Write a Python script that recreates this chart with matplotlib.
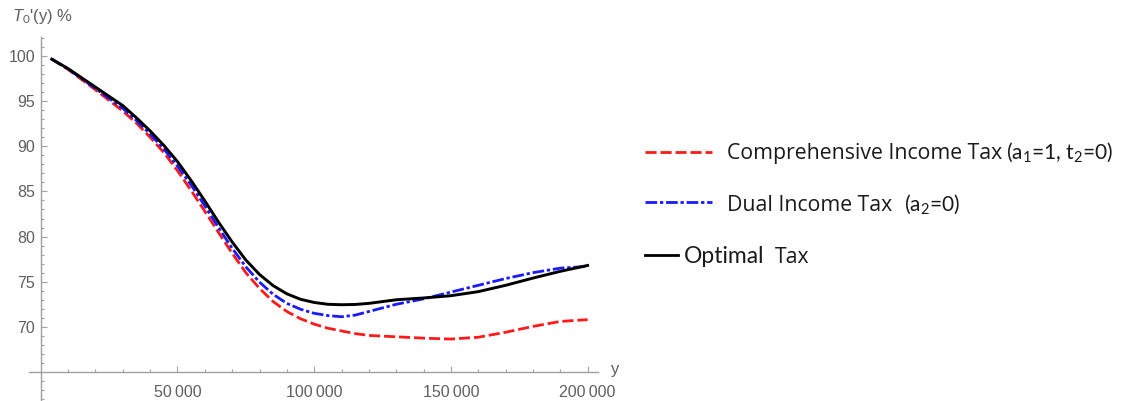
import matplotlib
matplotlib.use('Agg')
from matplotlib import pyplot as plt
from matplotlib.lines import Line2D

plt.rcParams['mathtext.fontset'] = 'custom'
plt.rcParams['mathtext.rm'] = 'Lato'
plt.rcParams['mathtext.it'] = 'Liberation Sans:italic'

# income levels y and marginal tax rates T0'(y) in %
income = [4000, 10000, 20000, 30000, 35000, 40000, 45000, 50000, 55000, 60000, 65000,
          70000, 75000, 80000, 85000, 90000, 95000, 100000, 105000, 110000, 115000,
          120000, 130000, 140000, 150000, 160000, 170000, 180000, 190000, 200000]
comprehensive = [99.65, 98.5, 96.25, 93.9, 92.55, 91.0, 89.3, 87.3, 85.1, 82.8, 80.45,
                 78.15, 76.0, 74.25, 72.8, 71.7, 70.9, 70.3, 69.85, 69.55, 69.25,
                 69.05, 68.9, 68.75, 68.65, 68.85, 69.4, 70.05, 70.6, 70.8]
dual = [99.65, 98.55, 96.4, 94.2, 92.85, 91.35, 89.7, 87.8, 85.7, 83.4, 81.0,
        78.7, 76.65, 74.95, 73.6, 72.6, 71.95, 71.5, 71.25, 71.12, 71.3,
        71.7, 72.5, 73.1, 73.85, 74.6, 75.35, 76.0, 76.5, 76.7]
optimal = [99.65, 98.6, 96.55, 94.5, 93.15, 91.7, 90.1, 88.3, 86.2, 83.95, 81.6,
           79.4, 77.4, 75.8, 74.56, 73.66, 73.05, 72.7, 72.5, 72.45, 72.48,
           72.6, 73.0, 73.2, 73.45, 73.9, 74.6, 75.4, 76.15, 76.8]

x_major = [50000, 100000, 150000, 200000]
y_major = [70, 75, 80, 85, 90, 95, 100]

W, H = 1124, 401
fig = plt.figure(figsize=(W / 100, H / 100), dpi=100)
ax = fig.add_axes([29.3 / W, 1 / H, 568.7 / W, 363 / H])

ax.plot(income, comprehensive, color='#ff1a1a', lw=2.0, dashes=[4, 1.4])
ax.plot(income, dual, color='#1a1aff', lw=2.0, dashes=[4.2, 1.0, 1.2, 1.0])
ax.plot(income, optimal, color='black', lw=2.1)

ax.set_xlim(-4200, 203800)
ax.set_ylim(61.9, 102.1)

axis_col = '#a0a0a0'
label_col = '#5f5f5f'
for s in ['top', 'right']:
    ax.spines[s].set_visible(False)
ax.spines['left'].set_position(('data', 0))
ax.spines['bottom'].set_position(('data', 65))
for s in ['left', 'bottom']:
    ax.spines[s].set_color(axis_col)
    ax.spines[s].set_linewidth(1.0)

ax.set_xticks(x_major)
ax.set_xticklabels([f"{v // 1000}\u2009000" for v in x_major])
ax.set_xticks([v for v in range(10000, 200001, 10000) if v not in x_major], minor=True)
ax.set_yticks(y_major)
ax.set_yticklabels([str(v) for v in y_major])
ax.set_yticks([v for v in range(62, 103) if v not in y_major and v != 65], minor=True)

ax.tick_params(which='both', direction='in', color=axis_col, width=0.8,
               labelcolor=label_col, labelsize=11.5)
ax.tick_params(which='major', length=4.5)
ax.tick_params(which='minor', length=2.5)
ax.tick_params(axis='x', pad=9)
ax.tick_params(axis='y', pad=4)
for lab in ax.get_xticklabels() + ax.get_yticklabels():
    lab.set_family('Liberation Sans')

ax.text(208500, 65.3, 'y', color=label_col, fontsize=12, family='Liberation Sans',
        ha='left', va='center', clip_on=False)
fig.text(12 / W, 1 - 21 / H, r"$T_{\mathrm{0}}$'(y) %", color=label_col, fontsize=12,
         family='Liberation Sans', ha='left', va='baseline')

# legend, drawn by hand to keep the mixed fonts
txt_col = '#1a1a1a'
leg = [
    ('#ff1a1a', [4, 1.4], 711.7, 151.7, 159,
     [('Comprehensive Income Tax', 'Open Sans', 15.3, 726.7),
      (r'(a$_1$=1, t$_2$=0)', 'Lato', 15.0, 1006)]),
    ('#1a1aff', [4.2, 1.0, 1.2, 1.0], 711.7, 201.7, 210.7,
     [('Dual Income Tax', 'Open Sans', 15.3, 726.7), (r'(a$_2$=0)', 'Lato', 15.0, 904)]),
    ('black', None, 678.3, 255, 262.7,
     [('Optimal', 'Lato', 16.5, 684.3), ('Tax', 'Open Sans', 15.3, 775)]),
]
for col, dsh, x_end, y_line, y_base, parts in leg:
    ln = Line2D([645 / W, x_end / W], [1 - y_line / H, 1 - y_line / H],
                transform=fig.transFigure, color=col, lw=2.0)
    if dsh is not None:
        ln.set_dashes(dsh)
    fig.add_artist(ln)
    for t, fam, fs, xp in parts:
        fig.text(xp / W, 1 - y_base / H, t, family=fam, fontsize=fs,
                 color=txt_col, ha='left', va='baseline')

plt.savefig('out.png', dpi=100)
plt.close()
